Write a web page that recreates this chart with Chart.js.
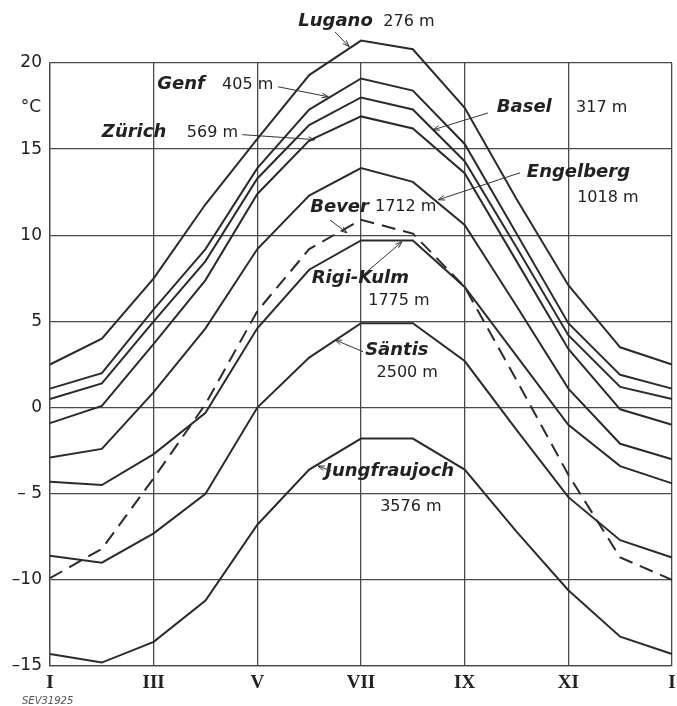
<!DOCTYPE html>
<html>
<head>
<meta charset="utf-8">
<script src="https://cdn.jsdelivr.net/npm/chart.js"></script>
<style>
  html, body { margin: 0; padding: 0; background: #fff; }
  #wrap { width: 677px; height: 706px; }
</style>
</head>
<body>
<div id="wrap"><canvas id="chart" width="677" height="706"></canvas></div>
<script>
// monthly mean temperatures, January to January
const months = ['I', 'II', 'III', 'IV', 'V', 'VI', 'VII', 'VIII', 'IX', 'X', 'XI', 'XII', 'I'];
const lugano = [2.5, 4.0, 7.5, 11.8, 15.6, 19.3, 21.3, 20.8, 17.4, 12.1, 7.1, 3.5, 2.5];
const genf = [1.1, 2.0, 5.7, 9.2, 13.9, 17.3, 19.1, 18.4, 15.3, 10.1, 4.9, 1.9, 1.1];
const basel = [0.5, 1.4, 5.0, 8.5, 13.3, 16.4, 18.0, 17.3, 14.3, 9.3, 4.2, 1.2, 0.5];
const zuerich = [-0.9, 0.1, 3.7, 7.4, 12.4, 15.5, 16.9, 16.2, 13.6, 8.5, 3.4, -0.1, -1.0];
const engelberg = [-2.9, -2.4, 0.9, 4.6, 9.2, 12.3, 13.9, 13.1, 10.6, 5.9, 1.1, -2.1, -3.0];
const bever = [-9.9, -8.2, -4.1, 0.2, 5.6, 9.2, 10.9, 10.1, 7.0, 1.6, -3.9, -8.7, -10.0];
const rigi = [-4.3, -4.5, -2.7, -0.3, 4.6, 8.0, 9.7, 9.7, 7.0, 3.0, -1.0, -3.4, -4.4];
const saentis = [-8.6, -9.0, -7.3, -5.0, 0.0, 2.9, 4.9, 4.9, 2.7, -1.3, -5.2, -7.7, -8.7];
const jungfrau = [-14.3, -14.8, -13.6, -11.2, -6.8, -3.6, -1.8, -1.8, -3.6, -7.2, -10.6, -13.3, -14.3];
const yTicks = [-15, -10, -5, 0, 5, 10, 15, 20];

const ink = '#2b2b2b';
const gridInk = '#4a4a4a';

function series(data, dashed) {
  return {
    data,
    borderColor: ink,
    borderWidth: 2,
    borderDash: dashed ? [14, 8] : [],
    pointRadius: 0,
    tension: 0,
    fill: false,
    clip: false
  };
}

// station labels, placed in chart units (month index, °C)
const notes = [
  { name: 'Lugano', alt: '276 m', x: 4.79, y: 22.4, ax: 6.43, ay: 22.4, arrow: [5.50, 21.8, 5.77, 20.95] },
  { name: 'Genf', alt: '405 m', x: 2.07, y: 18.74, ax: 3.32, ay: 18.74, arrow: [4.40, 18.62, 5.37, 18.04] },
  { name: 'Zürich', alt: '569 m', x: 1.00, y: 15.95, ax: 2.64, ay: 15.95, arrow: [3.71, 15.84, 5.11, 15.55] },
  { name: 'Basel', alt: '317 m', x: 8.62, y: 17.4, ax: 10.15, ay: 17.4, arrow: [8.45, 17.1, 7.39, 16.12] },
  { name: 'Engelberg', alt: '1018 m', x: 9.2, y: 13.63, ax: 10.17, ay: 12.18, arrow: [9.07, 13.63, 7.49, 12.06] },
  { name: 'Bever', alt: '1712 m', x: 5.02, y: 11.64, ax: 6.27, ay: 11.64, arrow: [5.40, 10.89, 5.73, 10.14] },
  { name: 'Rigi-Kulm', alt: '1775 m', x: 5.05, y: 7.53, ax: 6.14, ay: 6.2, arrow: [6.04, 7.7, 6.79, 9.62] },
  { name: 'Säntis', alt: '2500 m', x: 6.08, y: 3.35, ax: 6.30, ay: 2.0, arrow: [6.04, 3.24, 5.50, 3.93] },
  { name: 'Jungfraujoch', alt: '3576 m', x: 5.31, y: -3.72, ax: 6.37, ay: -5.75, arrow: [5.42, -3.67, 5.17, -3.39] }
];

const labelPlugin = {
  id: 'labels',
  afterDatasetsDraw(chart) {
    const ctx = chart.ctx;
    const xs = chart.scales.x;
    const ys = chart.scales.y;
    ctx.save();
    ctx.fillStyle = '#222';
    ctx.strokeStyle = '#333';
    ctx.lineWidth = 1;
    ctx.textBaseline = 'middle';
    ctx.textAlign = 'left';
    notes.forEach(n => {
      ctx.font = 'italic bold 18px "DejaVu Sans"';
      ctx.fillText(n.name, xs.getPixelForValue(n.x), ys.getPixelForValue(n.y));
      ctx.font = '16px "DejaVu Sans"';
      ctx.fillText(n.alt, xs.getPixelForValue(n.ax), ys.getPixelForValue(n.ay));
      const x1 = xs.getPixelForValue(n.arrow[0]);
      const y1 = ys.getPixelForValue(n.arrow[1]);
      const x2 = xs.getPixelForValue(n.arrow[2]);
      const y2 = ys.getPixelForValue(n.arrow[3]);
      const a = Math.atan2(y2 - y1, x2 - x1);
      ctx.beginPath();
      ctx.moveTo(x1, y1);
      ctx.lineTo(x2, y2);
      ctx.moveTo(x2 - 7 * Math.cos(a - 0.35), y2 - 7 * Math.sin(a - 0.35));
      ctx.lineTo(x2, y2);
      ctx.lineTo(x2 - 7 * Math.cos(a + 0.35), y2 - 7 * Math.sin(a + 0.35));
      ctx.stroke();
    });
    // unit beside the y axis
    ctx.font = '17px "DejaVu Sans"';
    ctx.textAlign = 'right';
    ctx.fillText('°C', 41, ys.getPixelForValue(17.4));
    // drawing number
    ctx.font = 'italic 10px "DejaVu Sans"';
    ctx.textAlign = 'left';
    ctx.fillStyle = '#555';
    ctx.fillText('SEV31925', 22, 701);
    ctx.restore();
  }
};

new Chart(document.getElementById('chart').getContext('2d'), {
  type: 'line',
  data: {
    labels: months,
    datasets: [
      series(lugano), series(genf), series(basel), series(zuerich), series(engelberg),
      series(bever, true), series(rigi), series(saentis), series(jungfrau)
    ]
  },
  options: {
    responsive: false,
    animation: false,
    devicePixelRatio: 1,
    layout: { padding: { top: 63, right: 5, left: 0, bottom: 0 } },
    plugins: { legend: { display: false }, tooltip: { enabled: false } },
    scales: {
      x: {
        type: 'category',
        offset: false,
        afterFit: s => {
          s.height = 40;
          s.paddingLeft = 0;
          s.paddingRight = 0;
        },
        grid: {
          color: c => (c.index % 2 === 0 ? gridInk : 'rgba(0,0,0,0)'),
          lineWidth: 1.3,
          drawTicks: false
        },
        border: { color: gridInk, width: 1.3 },
        ticks: {
          autoSkip: false,
          maxRotation: 0,
          padding: 6,
          color: '#222',
          font: { family: '"Liberation Serif"', size: 19, weight: 'bold' },
          callback: (v, i) => (i % 2 === 0 ? months[i] : '')
        }
      },
      y: {
        min: -15,
        max: 20,
        afterFit: s => { s.width = 50; },
        afterBuildTicks: s => { s.ticks = yTicks.map(v => ({ value: v })); },
        grid: { color: gridInk, lineWidth: 1.3, drawTicks: false },
        border: { color: gridInk, width: 1.3 },
        ticks: {
          padding: 8,
          color: '#222',
          font: { family: '"DejaVu Sans"', size: 17 },
          callback: v => (v < 0 ? (v > -10 ? '– ' : '–') + Math.abs(v) : String(v))
        }
      }
    }
  },
  plugins: [labelPlugin]
});
</script>
</body>
</html>
